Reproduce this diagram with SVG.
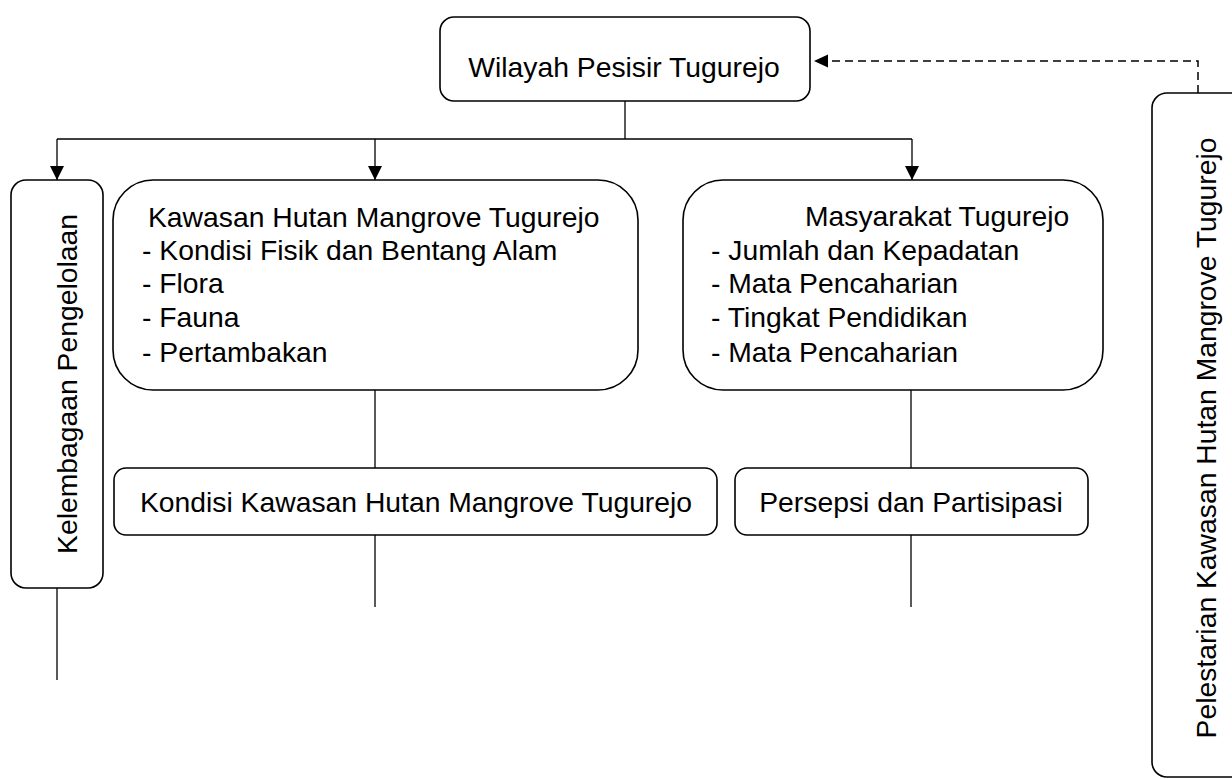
<svg xmlns="http://www.w3.org/2000/svg" width="1232" height="779" viewBox="0 0 1232 779">
<style>
.box{fill:#fff;stroke:#000;stroke-width:1.6}
.t{font-family:"Liberation Sans",Arial,sans-serif;font-size:28.3px;fill:#000}
.c{text-anchor:middle}
.ln{fill:none;stroke:#000;stroke-width:1.3}
.dash{fill:none;stroke:#000;stroke-width:1.5;stroke-dasharray:8 5}
</style>
<defs>
<marker id="ah" viewBox="0 0 14 14" refX="14" refY="7" markerWidth="14" markerHeight="14" markerUnits="userSpaceOnUse" orient="auto">
<path d="M0,0 L14,7 L0,14 z" fill="#000"/>
</marker>
</defs>
<g id="connectors">
<path class="ln" d="M625,101 V139"/>
<path class="ln" d="M57,139 H912"/>
<path class="ln" d="M57,139 V180" marker-end="url(#ah)"/>
<path class="ln" d="M375,139 V180" marker-end="url(#ah)"/>
<path class="ln" d="M912,139 V180" marker-end="url(#ah)"/>
<path class="ln" d="M375,390 V468"/>
<path class="ln" d="M911,390 V468"/>
<path class="ln" d="M375,535 V607"/>
<path class="ln" d="M911,535 V607"/>
<path class="ln" d="M57,588 V680"/>
<path class="dash" d="M1198,93 V61 H828"/>
<path d="M814,61 L828,54.5 L828,67.5 z" fill="#000"/>
</g>
<g id="wilayah">
<rect class="box" x="440" y="17" width="370" height="84" rx="14"/>
<text class="t c" x="624" y="77">Wilayah Pesisir Tugurejo</text>
</g>
<g id="kelembagaan">
<rect class="box" x="11" y="180" width="92" height="408" rx="15"/>
<text class="t c" transform="translate(77,384) rotate(-90)">Kelembagaan Pengelolaan</text>
</g>
<g id="kawasan">
<rect class="box" x="113" y="180" width="525" height="210" rx="40"/>
<text class="t" x="148" y="227">Kawasan Hutan Mangrove Tugurejo</text>
<text class="t" x="142" y="260">- Kondisi Fisik dan Bentang Alam</text>
<text class="t" x="142" y="293">- Flora</text>
<text class="t" x="142" y="327">- Fauna</text>
<text class="t" x="142" y="362">- Pertambakan</text>
</g>
<g id="masyarakat">
<rect class="box" x="683" y="180" width="420" height="210" rx="40"/>
<text class="t" x="805" y="226">Masyarakat Tugurejo</text>
<text class="t" x="711" y="260">- Jumlah dan Kepadatan</text>
<text class="t" x="711" y="293">- Mata Pencaharian</text>
<text class="t" x="711" y="327">- Tingkat Pendidikan</text>
<text class="t" x="711" y="362">- Mata Pencaharian</text>
</g>
<g id="kondisi">
<rect class="box" x="114" y="468" width="603" height="67" rx="12"/>
<text class="t c" x="416" y="512">Kondisi Kawasan Hutan Mangrove Tugurejo</text>
</g>
<g id="persepsi">
<rect class="box" x="735" y="468" width="353" height="67" rx="12"/>
<text class="t c" x="911" y="512">Persepsi dan Partisipasi</text>
</g>
<g id="pelestarian">
<rect class="box" x="1152" y="93" width="120" height="684" rx="15"/>
<text class="t c" transform="translate(1216,438) rotate(-90)">Pelestarian Kawasan Hutan Mangrove Tugurejo</text>
</g>
</svg>
